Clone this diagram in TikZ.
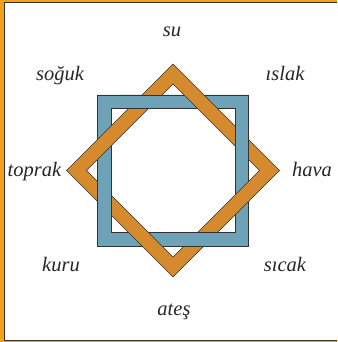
\documentclass[tikz,border=0pt]{standalone}
\usepackage{fontspec}
\setmainfont{Liberation Serif}
\usetikzlibrary{positioning}
\definecolor{CFRM}{RGB}{245,160,26}
\definecolor{CLIN}{RGB}{51,51,51}
\definecolor{CBLU}{RGB}{110,163,183}
\definecolor{CORG}{RGB}{213,138,46}
\tikzset{
  bandblue/.style={fill=CBLU,even odd rule,draw=CLIN,line width=0.4pt},
  bandorg/.style={fill=CORG,even odd rule,draw=CLIN,line width=0.4pt},
  lbl/.style={font=\fontsize{17.5}{21}\selectfont\itshape,text=black!85,anchor=base,inner sep=0pt}
}
\begin{document}
\begin{tikzpicture}[x=0.03cm,y=-0.03cm]
  \useasboundingbox (0,0) rectangle (337,342);
  \clip (0,0) rectangle (337,342);
  % — frame
  \fill[CFRM] (0,0) rectangle (337,342);
  \fill[white] (4,2) rectangle (345,340);
  \draw[CLIN,line width=0.8pt] (345,2) -- (4,2) -- (4,340) -- (345,340);
  % — interlaced square and diamond
  \begin{scope}[shift={(173,170.5)}]
    \path[bandblue] (-75.5,-75.5) rectangle (75.5,75.5) (-62,-62) rectangle (62,62);
    \path[bandorg] (0,-106.5) -- (106.5,0) -- (0,106.5) -- (-106.5,0) -- cycle
                   (0,-86.5) -- (86.5,0) -- (0,86.5) -- (-86.5,0) -- cycle;
    \foreach \a in {0,90,180,270} {
      \begin{scope}[rotate=\a]
        \clip (-51,-77) rectangle (-4,-60.5);
        \path[bandblue] (-75.5,-75.5) rectangle (75.5,75.5) (-62,-62) rectangle (62,62);
      \end{scope}
    }
  \end{scope}
  % — labels
  \node[lbl] (su) at (172,37) {su};
  \node[lbl] (soguk) at (60,81) {soğuk};
  \node[lbl] (islak) at (285,81) {ıslak};
  \node[lbl] (toprak) at (34.5,176) {toprak};
  \node[lbl] (hava) at (312,176) {hava};
  \node[lbl] (kuru) at (61,271) {kuru};
  \node[lbl] (sicak) at (285,271) {sıcak};
  \node[lbl] (ates) at (174,315) {ateş};
\end{tikzpicture}
\end{document}
